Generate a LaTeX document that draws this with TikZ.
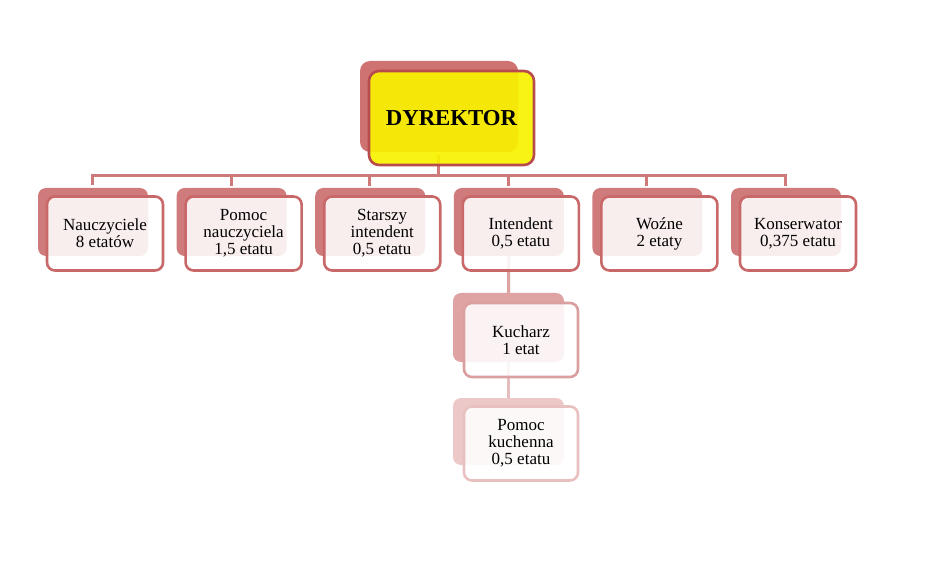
\documentclass[tikz,border=0pt]{standalone}
\usepackage{fontspec}
\setmainfont{Liberation Serif}
\definecolor{backA}{HTML}{D07B7B}
\definecolor{bordA}{HTML}{C86868}
\definecolor{lineA}{HTML}{CF7A7A}
\definecolor{backB}{HTML}{DFA3A3}
\definecolor{bordB}{HTML}{DAA0A0}
\definecolor{lineB}{HTML}{DDA2A2}
\definecolor{backC}{HTML}{EDC8C8}
\definecolor{bordC}{HTML}{E8C0C0}
\definecolor{lineC}{HTML}{E6BDBD}
\definecolor{dirback}{HTML}{CF7272}
\definecolor{dirbord}{HTML}{B84C4C}
\definecolor{diryel}{HTML}{F8F200}
\tikzset{
  backbox/.style={draw=none, fill=#1, rounded corners=8pt, minimum width=110pt, minimum height=68pt, inner sep=0pt},
  frontbox/.style={draw=#1, line width=2.6pt, fill=white, fill opacity=0.88, text opacity=1, rounded corners=8pt,
     minimum width=116pt, minimum height=74pt, inner sep=0pt, align=center, font=\fontsize{17}{17}\selectfont},
  conn/.style={draw=#1, line width=3pt}
}
\begin{document}
\begin{tikzpicture}[x=1pt,y=-1pt]
\useasboundingbox (0,0) rectangle (942,561);
% connectors
\coordinate (hl) at (92.5,176);
\coordinate (hr) at (785.5,176);
\coordinate (dtop) at (438,155);
\coordinate (dbot) at (438,176);
\draw[conn=lineA] (dtop) -- (dbot);
\draw[conn=lineA] (92.5,185) -- (hl) -- (hr) -- (785.5,186);
\foreach \i in {1,2,3,4}{
  \draw[conn=lineA] ({92.5+138.6*\i},176) -- ({92.5+138.6*\i},186);
}
% director
\node[fill=dirback, rounded corners=10pt, minimum width=158pt, minimum height=91pt, inner sep=0pt] (dirb) at (439,106.5) {};
\node[draw=dirbord, line width=2.6pt, fill=diryel, fill opacity=0.93, text opacity=1, rounded corners=10pt,
      minimum width=165pt, minimum height=94pt, inner sep=0pt, font=\fontsize{22.8}{24}\selectfont\bfseries] (dir) at (451.5,118) {DYREKTOR};
% level 1
\node[backbox=backA] (b1) at (93,222) {};
\node[frontbox=bordA] (f1) at (105,233.5) {Nauczyciele\\8 etatów};
\node[backbox=backA] (b2) at (231.6,222) {};
\node[frontbox=bordA] (f2) at (243.6,233.5) {Pomoc\\nauczyciela\\1,5 etatu};
\node[backbox=backA] (b3) at (370.2,222) {};
\node[frontbox=bordA] (f3) at (382.2,233.5) {Starszy\\intendent\\0,5 etatu};
% intendent chain connectors
\node[backbox=backA] (b4) at (508.8,222) {};
\draw[conn=lineB] (b4.south) -- (508.5,293);
\node[frontbox=bordA] (f4) at (520.8,233.5) {Intendent\\0,5 etatu};
\node[backbox=backA] (b5) at (647.4,222) {};
\node[frontbox=bordA] (f5) at (659.4,233.5) {Woźne\\2 etaty};
\node[backbox=backA] (b6) at (786,222) {};
\node[frontbox=bordA] (f6) at (798,233.5) {Konserwator\\0,375 etatu};
% level 2
\node[backbox=backB, minimum width=111pt, minimum height=69pt] (k1) at (508.5,327.5) {};
\node[backbox=backC, minimum width=111pt, minimum height=67pt, fill opacity=0] (p1) at (508.5,431.5) {};
\draw[conn=lineC] (k1.south) -- (p1.north);
\node[frontbox=bordB, minimum width=114pt] (k2) at (521,340) {Kucharz\\1 etat};
\node[backbox=backC, minimum width=111pt, minimum height=67pt] (p1b) at (508.5,431.5) {};
\node[frontbox=bordC, minimum width=114pt] (p2) at (521,443.5) {Pomoc\\kuchenna\\0,5 etatu};
\end{tikzpicture}
\end{document}
